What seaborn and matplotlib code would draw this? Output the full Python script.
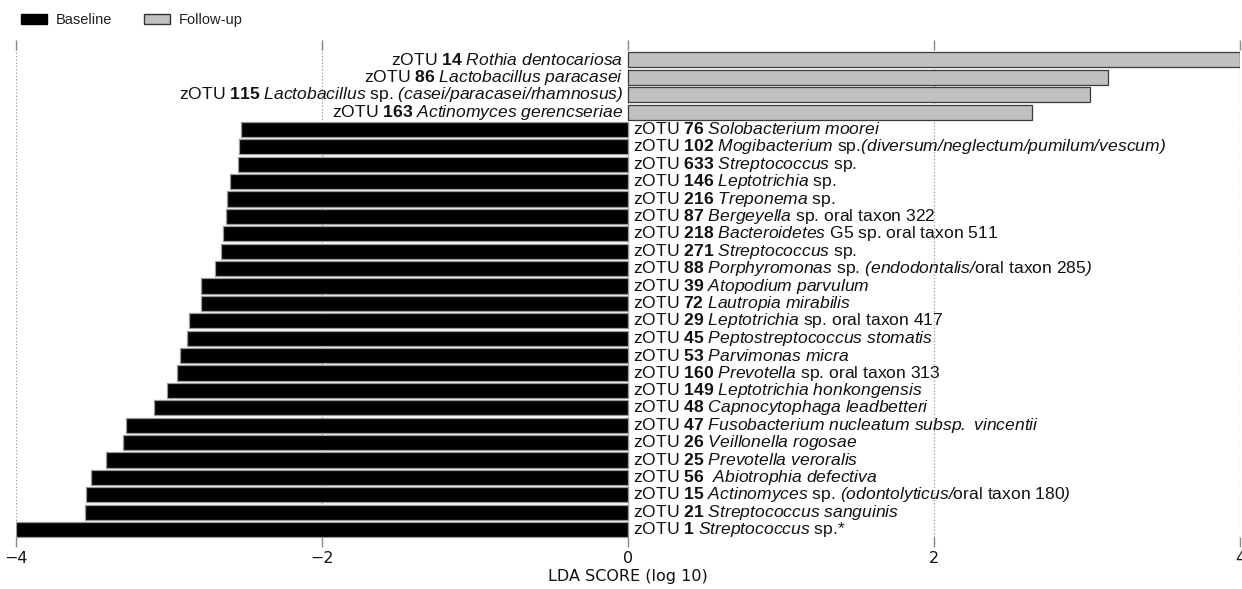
import matplotlib
matplotlib.use('Agg')
import matplotlib.pyplot as plt
import seaborn as sns
import pandas as pd
from matplotlib.patches import Patch

otu_ids = ['14', '86', '115', '163',
           '76', '102', '633', '146', '216', '87', '218', '271', '88', '39',
           '72', '29', '45', '53', '160', '149', '48', '47', '26', '25', '56',
           '15', '21', '1']

# \mathsf is mapped to the italic face below (keeps punctuation italic too)
taxa = [
    r'$\mathsf{Rothia\ dentocariosa}$',
    r'$\mathsf{Lactobacillus\ paracasei}$',
    r'$\mathsf{Lactobacillus}$ sp. $\mathsf{(casei/paracasei/rhamnosus)}$',
    r'$\mathsf{Actinomyces\ gerencseriae}$',
    r'$\mathsf{Solobacterium\ moorei}$',
    r'$\mathsf{Mogibacterium}$ sp.$\mathsf{(diversum/neglectum/pumilum/vescum)}$',
    r'$\mathsf{Streptococcus}$ sp.',
    r'$\mathsf{Leptotrichia}$ sp.',
    r'$\mathsf{Treponema}$ sp.',
    r'$\mathsf{Bergeyella}$ sp. oral taxon 322',
    r'$\mathsf{Bacteroidetes}$ G5 sp. oral taxon 511',
    r'$\mathsf{Streptococcus}$ sp.',
    r'$\mathsf{Porphyromonas}$ sp. $\mathsf{(endodontalis/}$oral taxon 285$\mathsf{)}$',
    r'$\mathsf{Atopodium\ parvulum}$',
    r'$\mathsf{Lautropia\ mirabilis}$',
    r'$\mathsf{Leptotrichia}$ sp. oral taxon 417',
    r'$\mathsf{Peptostreptococcus\ stomatis}$',
    r'$\mathsf{Parvimonas\ micra}$',
    r'$\mathsf{Prevotella}$ sp. oral taxon 313',
    r'$\mathsf{Leptotrichia\ honkongensis}$',
    r'$\mathsf{Capnocytophaga\ leadbetteri}$',
    r'$\mathsf{Fusobacterium\ nucleatum\ subsp.\ vincentii}$',
    r'$\mathsf{Veillonella\ rogosae}$',
    r'$\mathsf{Prevotella\ veroralis}$',
    r' $\mathsf{Abiotrophia\ defectiva}$',
    r'$\mathsf{Actinomyces}$ sp. $\mathsf{(odontolyticus/}$oral taxon 180$\mathsf{)}$',
    r'$\mathsf{Streptococcus\ sanguinis}$',
    r'$\mathsf{Streptococcus}$ sp.*',
]

scores = [4.00, 3.14, 3.02, 2.64,
          -2.53, -2.54, -2.55, -2.60, -2.62, -2.63, -2.65, -2.66, -2.70, -2.79,
          -2.79, -2.87, -2.88, -2.93, -2.95, -3.01, -3.10, -3.28, -3.30, -3.41,
          -3.51, -3.54, -3.55, -4.00]

groups = ['Follow-up'] * 4 + ['Baseline'] * 24

group_colors = {'Baseline': '#000000', 'Follow-up': '#c0c0c0'}

sns.set_theme(style='white')
plt.rcParams['font.family'] = ['Liberation Sans', 'DejaVu Sans']
plt.rcParams['mathtext.fontset'] = 'custom'
plt.rcParams['mathtext.rm'] = 'Liberation Sans'
plt.rcParams['mathtext.it'] = 'Liberation Sans:italic'
plt.rcParams['mathtext.sf'] = 'Liberation Sans:italic'
plt.rcParams['mathtext.bf'] = 'Liberation Sans:bold'

rows = ['zOTU ' + o for o in otu_ids]
df = pd.DataFrame({'row': rows, 'score': scores, 'group': groups})

fig = plt.figure(figsize=(12.42, 5.89), dpi=100)
ax = fig.add_axes([0.0129, 0.0713, 0.9855, 0.861])

sns.barplot(data=df, x='score', y='row', hue='group', order=rows,
            palette=group_colors, dodge=False, width=0.87, saturation=1,
            legend=False, ax=ax, zorder=2)

for p in ax.patches:
    fc = p.get_facecolor()
    if fc[0] < 0.1:
        p.set_edgecolor('#9a9a9a')
    else:
        p.set_edgecolor('#3a3a3a')
    p.set_linewidth(0.9)

ax.set_xlim(-4, 4)
ax.set_ylim(28.0, -1.15)
ax.set_xticks([-4, -2, 0, 2, 4])
ax.tick_params(axis='x', direction='in', length=7, color='#8a8a8a', width=1,
               top=True, bottom=True, labelsize=11.5, pad=3)
ax.tick_params(axis='y', left=False, labelleft=False)
for lab in ax.get_xticklabels():
    lab.set_fontfamily('DejaVu Sans')
    lab.set_color('#111111')
ax.set_ylabel('')
ax.set_xlabel('LDA SCORE (log 10)', fontsize=11.5, family='DejaVu Sans',
              labelpad=2, color='#111111')
ax.grid(axis='x', linestyle=':', color='#9a9a9a', linewidth=0.9)
ax.grid(axis='y', visible=False)
ax.set_axisbelow(True)
for s in ax.spines.values():
    s.set_visible(False)

for i, (o, t, s) in enumerate(zip(otu_ids, taxa, scores)):
    label = 'zOTU $\\mathbf{' + o + '}$ ' + t
    if s > 0:
        ax.annotate(label, xy=(0, i), xytext=(-3.6, 0), textcoords='offset points',
                    ha='right', va='center', fontsize=12.6, color='#111111')
    else:
        ax.annotate(label, xy=(0, i), xytext=(3.6, 0), textcoords='offset points',
                    ha='left', va='center', fontsize=12.6, color='#111111')

handles = [Patch(facecolor=group_colors['Baseline'], edgecolor='#000000'),
           Patch(facecolor=group_colors['Follow-up'], edgecolor='#333333')]
fig.legend(handles=handles, labels=['Baseline', 'Follow-up'], loc='upper left',
           bbox_to_anchor=(0.006, 1.0), ncol=2, frameon=False, fontsize=10.5,
           handlelength=1.8, handleheight=0.65, columnspacing=2.2, handletextpad=0.6,
           labelcolor='#222222')

fig.savefig('out.png', dpi=100)
